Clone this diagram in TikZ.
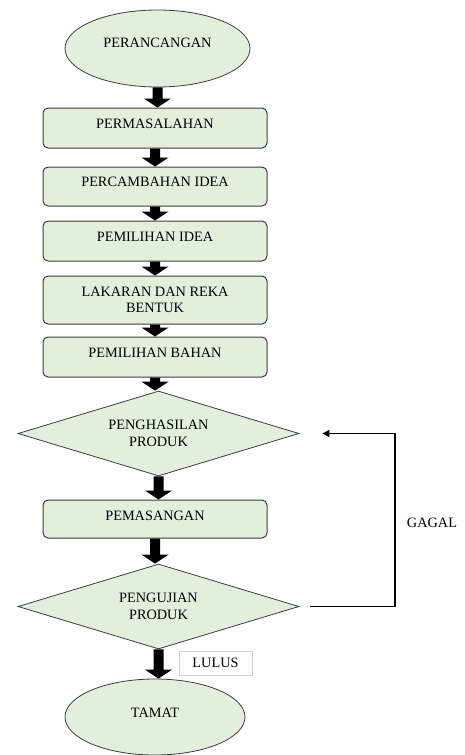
\documentclass[tikz,border=0pt]{standalone}
\usepackage{fontspec}
\setmainfont{Liberation Serif}
\usetikzlibrary{shapes.geometric,arrows.meta,calc}
\definecolor{boxfill}{HTML}{E2EFDA}
\definecolor{boxline}{HTML}{3C3C3C}
\newcommand\blockarr[2]{\fill[black] let \p1=(#1), \p2=(#2) in
  (\x1-5pt,\y1) -- (\x1-5pt,\y2+9pt) -- (\x1-13.5pt,\y2+9pt) -- (\x1,\y2)
  -- (\x1+13.5pt,\y2+9pt) -- (\x1+5pt,\y2+9pt) -- (\x1+5pt,\y1) -- cycle;}
\tikzset{
  txt/.style={font=\fontsize{14.3}{16.5}\selectfont, text=black},
  proc/.style={txt, draw=boxline, fill=boxfill, line width=1pt, rounded corners=5pt,
    minimum width=224pt, minimum height=40pt, inner sep=0pt, align=center},
  term/.style={txt, ellipse, draw=boxline, fill=boxfill, line width=0.8pt,
    minimum width=185pt, minimum height=77pt, inner sep=0pt},
  dec/.style={txt, diamond, draw=boxline, fill=boxfill, line width=0.8pt,
    minimum width=281pt, minimum height=85pt, inner sep=0pt, aspect=3.3, align=center},
  fbline/.style={line width=1.2pt, -{Triangle[length=7pt,width=7pt]}}
}
\begin{document}
\begin{tikzpicture}[x=1pt,y=-1pt]
\useasboundingbox (0,0) rectangle (464,755);
\node[term, text depth=11pt] (start) at (157.5,48.5) {PERANCANGAN};
\node[proc, text depth=8pt] (b1) at (155,128) {PERMASALAHAN};
\node[proc, minimum height=39pt, text depth=9pt] (b2) at (155,186.5) {PERCAMBAHAN IDEA};
\node[proc, text depth=8pt] (b3) at (155,241) {PEMILIHAN IDEA};
\node[proc, minimum height=48pt] (b4) at (155,300) {LAKARAN DAN REKA\\BENTUK};
\node[proc, text depth=8pt] (b5) at (155,357) {PEMILIHAN BAHAN};
\node[dec] (d1) at (158.5,433.5) {PENGHASILAN\\PRODUK};
\node[proc, minimum height=38pt, text depth=6pt] (b6) at (155,519) {PEMASANGAN};
\node[dec] (d2) at (158.5,606.5) {PENGUJIAN\\PRODUK};
\node[term, minimum width=180pt, minimum height=76pt, text depth=8pt] (end) at (155,717) {TAMAT};
\node[txt, draw=black!18, line width=0.6pt, minimum width=73pt, minimum height=24pt, inner sep=0pt] (lulus) at (215.5,663) {LULUS};
\node[txt] (gagal) at (432,523) {GAGAL};
\blockarr{start.south}{b1.north}
\blockarr{b1.south}{b2.north}
\blockarr{b2.south}{b3.north}
\blockarr{b3.south}{b4.north}
\blockarr{b4.south}{b5.north}
\blockarr{b5.south}{d1.north}
\blockarr{d1.south}{b6.north}
\blockarr{b6.south}{d2.north}
\blockarr{d2.south}{end.north}
\coordinate (fb) at (395,606.5);
\draw[fbline, shorten <=11pt, shorten >=23pt] (d2.east) -- (fb) |- (d1.east);
\end{tikzpicture}
\end{document}
